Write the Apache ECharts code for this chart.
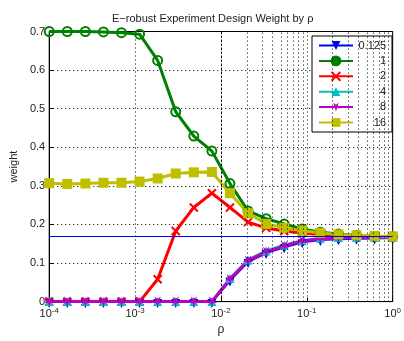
<!DOCTYPE html>
<html>
<head>
<meta charset="utf-8">
<script src="https://cdn.jsdelivr.net/npm/echarts@6/dist/echarts.min.js"></script>
<style>
html,body{margin:0;padding:0;background:#fff;}
#chart{width:404px;height:341px;}
</style>
</head>
<body>
<div id="chart"></div>
<script>
// Sample points for rho (logarithmically spaced from 1e-4 to 1)
const rho = [1e-4, 1.6238e-4, 2.6367e-4, 4.2813e-4, 6.9519e-4, 1.1288e-3, 1.8330e-3,
  2.9764e-3, 4.8329e-3, 7.8476e-3, 1.2743e-2, 2.0691e-2, 3.3598e-2, 5.4556e-2,
  8.8587e-2, 0.14384, 0.23357, 0.37927, 0.61585, 1];

// Design weight for each setting
const w0125 = [0, 0, 0, 0, 0, 0, 0, 0, 0, 0, 0.056, 0.104, 0.127, 0.142, 0.155, 0.161, 0.163, 0.164, 0.165, 0.166];
const w1    = [0.700, 0.700, 0.700, 0.699, 0.697, 0.693, 0.625, 0.492, 0.429, 0.390, 0.306, 0.235, 0.215, 0.201, 0.188, 0.180, 0.175, 0.171, 0.169, 0.168];
const w2    = [0, 0, 0, 0, 0, 0, 0.058, 0.183, 0.244, 0.281, 0.244, 0.206, 0.191, 0.183, 0.178, 0.174, 0.171, 0.169, 0.168, 0.167];
const w4    = [0, 0, 0, 0, 0, 0, 0, 0, 0, 0, 0.060, 0.108, 0.131, 0.146, 0.158, 0.164, 0.166, 0.166, 0.167, 0.167];
const w8    = [0, 0, 0, 0, 0, 0, 0, 0, 0, 0, 0.058, 0.106, 0.129, 0.144, 0.157, 0.163, 0.165, 0.166, 0.166, 0.167];
const w16   = [0.307, 0.305, 0.306, 0.308, 0.308, 0.311, 0.319, 0.332, 0.335, 0.336, 0.281, 0.229, 0.201, 0.191, 0.184, 0.178, 0.174, 0.172, 0.170, 0.169];

// Uniform weight reference level
const uniformWeight = [0.1667];

const seriesNames = ['0.125', '1', '2', '4', '8', '16'];
const yTicks = [0, 0.1, 0.2, 0.3, 0.4, 0.5, 0.6, 0.7];
const decades = [1e-4, 1e-3, 1e-2, 1e-1];
const minorMult = [2, 3, 4, 5, 6, 7, 8, 9];

const minorLines = [];
decades.forEach(d => minorMult.forEach(m => minorLines.push({ xAxis: d * m })));

const FONT = 'Liberation Sans, Arial, sans-serif';
const pts = arr => rho.map((r, i) => [r, arr[i]]);

const xMark = 'path://M0,0L10,10M10,0L0,10';
const starMark = 'path://M5,10L6.2,6.6L10,6.4L7,4.2L8.1,0.6L5,2.8L1.9,0.6L3,4.2L0,6.4L3.8,6.6Z';

function lineSeries(name, data, color, symbol, size, extra) {
  return Object.assign({
    name: name,
    type: 'line',
    data: pts(data),
    symbol: symbol,
    symbolSize: size,
    showAllSymbol: true,
    lineStyle: { color: color, width: 3 },
    itemStyle: { color: color },
    emphasis: { disabled: true },
    animation: false,
    z: 3
  }, extra || {});
}

const chart = echarts.init(document.getElementById('chart'), null, { renderer: 'canvas' });

chart.setOption({
  backgroundColor: '#fff',
  animation: false,
  textStyle: { fontFamily: FONT },
  title: {
    text: 'E\u2212robust Experiment Design Weight by \u03c1',
    left: 107,
    top: 8,
    textStyle: { fontSize: 11, fontWeight: 'normal', color: '#222', fontFamily: FONT }
  },
  grid: {
    left: 49, right: 6, top: 31.5, bottom: 36.5,
    show: true, borderColor: '#000', borderWidth: 1, backgroundColor: 'transparent'
  },
  legend: {
    orient: 'vertical',
    left: 312,
    top: 36,
    data: [
      { name: '0.125' },
      { name: '1', itemStyle: { color: '#008000', borderColor: '#008000' } },
      { name: '2' },
      { name: '4' },
      { name: '8' },
      { name: '16' }
    ],
    itemWidth: 34,
    itemHeight: 11,
    itemGap: 4.4,
    padding: [4, 6, 4, 6],
    backgroundColor: '#fff',
    borderColor: '#000',
    borderWidth: 1,
    borderRadius: 0,
    formatter: n => '{t|' + n + '}',
    textStyle: {
      fontFamily: FONT,
      fontSize: 11,
      color: '#222',
      rich: { t: { width: 28, align: 'right', fontSize: 11, fontFamily: FONT, color: '#222' } }
    }
  },
  xAxis: {
    type: 'log',
    logBase: 10,
    min: 1e-4,
    max: 1,
    name: '\u03c1',
    nameLocation: 'middle',
    nameGap: 19,
    nameTextStyle: { fontSize: 12, color: '#222', fontFamily: FONT },
    axisLine: { onZero: false, lineStyle: { color: '#000', width: 1 } },
    axisTick: { inside: true, length: 4, lineStyle: { color: '#000' } },
    axisLabel: {
      margin: 5,
      color: '#222',
      formatter: v => '10{s|' + Math.round(Math.log10(v)) + '}',
      rich: {
        s: { fontSize: 8, verticalAlign: 'top', padding: [0, 0, 6, 0], color: '#222', fontFamily: FONT }
      },
      fontSize: 11,
      fontFamily: FONT
    },
    splitLine: { show: true, lineStyle: { color: '#000', type: [1, 3], width: 1 } }
  },
  yAxis: {
    type: 'value',
    min: 0,
    max: 0.7,
    interval: 0.1,
    name: 'weight',
    nameLocation: 'middle',
    nameGap: 28,
    nameRotate: 90,
    nameTextStyle: { fontSize: 11, color: '#222', fontFamily: FONT },
    axisLine: { show: true, lineStyle: { color: '#000', width: 1 } },
    axisTick: { show: true, inside: true, length: 4, lineStyle: { color: '#000' } },
    axisLabel: {
      margin: 4,
      color: '#222',
      fontSize: 11,
      fontFamily: FONT,
      formatter: v => (yTicks.indexOf(Math.round(v * 10) / 10) >= 0 ? (v === 0 ? '0' : v.toFixed(1)) : '')
    },
    splitLine: { show: true, lineStyle: { color: '#000', type: [1, 3], width: 1 } }
  },
  series: [
    {
      name: 'minor-grid',
      type: 'line',
      data: [],
      silent: true,
      z: 1,
      markLine: {
        silent: true,
        symbol: 'none',
        label: { show: false },
        lineStyle: { color: '#000', type: [1, 3], width: 1 },
        data: minorLines,
        animation: false
      }
    },
    lineSeries(seriesNames[0], w0125, '#0000ff', 'triangle', 9, {
      symbolRotate: 180,
      symbolOffset: [0, 2],
      markLine: {
        silent: true,
        symbol: 'none',
        label: { show: false },
        lineStyle: { color: '#0000ff', type: 'solid', width: 1 },
        data: uniformWeight.map(v => ({ yAxis: v })),
        animation: false
      }
    }),
    lineSeries(seriesNames[1], w1, '#008000', 'circle', 9, {
      itemStyle: { color: 'rgba(0,0,0,0)', borderColor: '#008000', borderWidth: 2 }
    }),
    lineSeries(seriesNames[2], w2, '#ff0000', xMark, 8, {
      itemStyle: { color: '#ff0000', borderColor: '#ff0000', borderWidth: 2 }
    }),
    lineSeries(seriesNames[3], w4, '#00bfbf', 'triangle', 9),
    lineSeries(seriesNames[4], w8, '#bf00bf', starMark, 10),
    lineSeries(seriesNames[5], w16, '#bfbf00', 'rect', 10)
  ]
});
</script>
</body>
</html>
